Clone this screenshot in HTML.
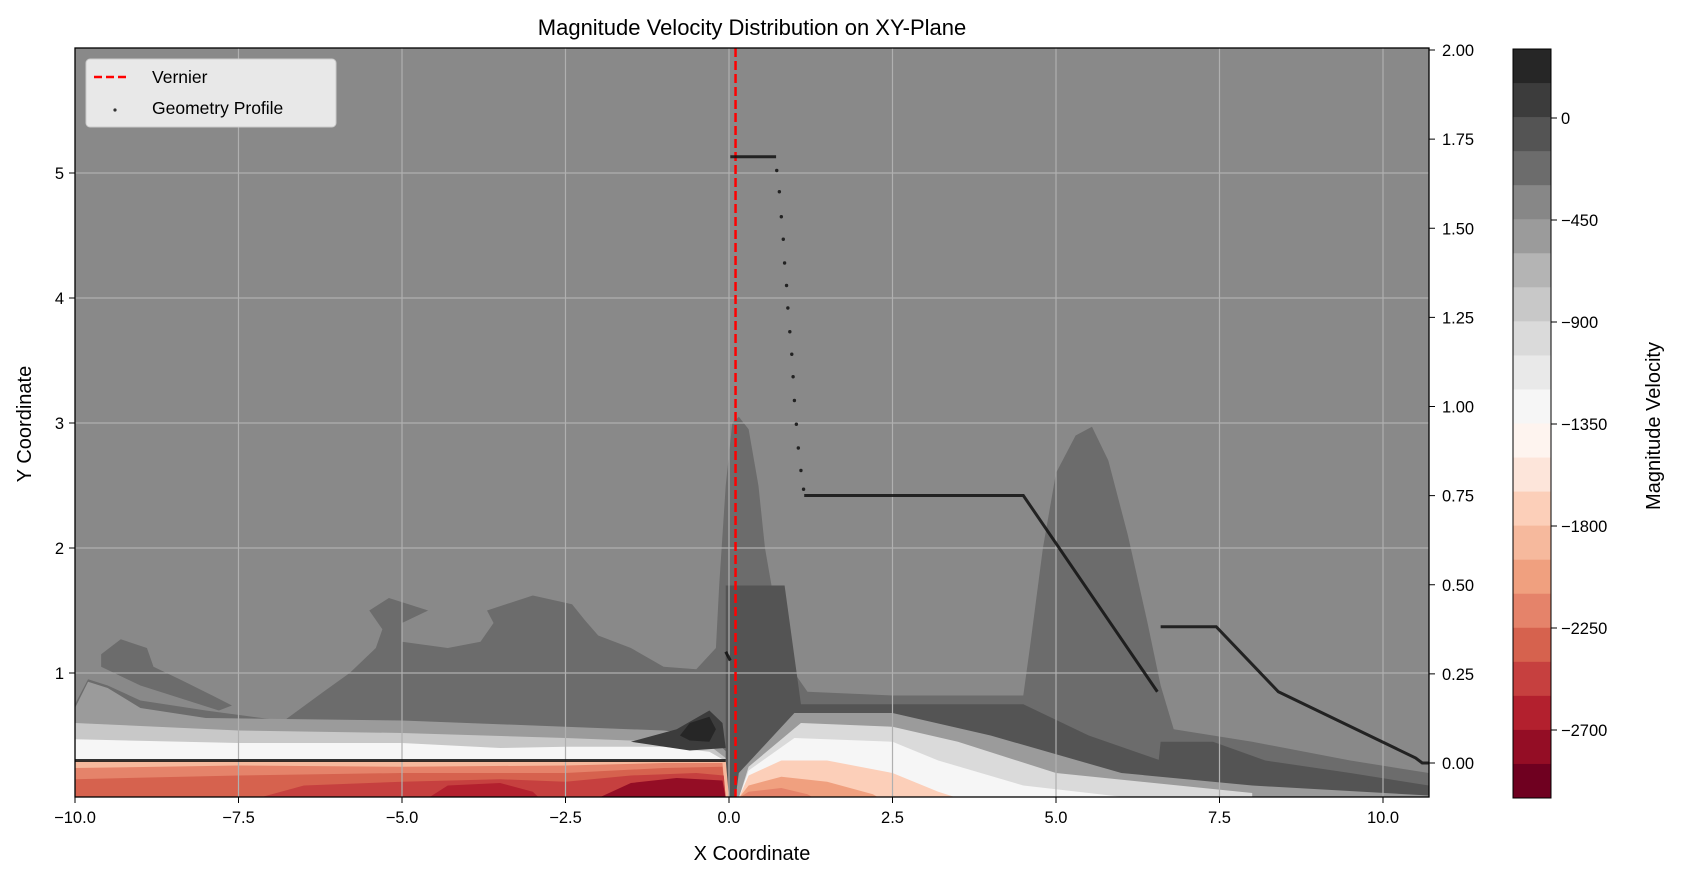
<!DOCTYPE html>
<html><head><meta charset="utf-8"><style>
html,body{margin:0;padding:0;background:#fff;}
svg{display:block;font-family:"Liberation Sans",sans-serif;}
</style></head><body>
<svg id="chart" width="1683" height="880" viewBox="0 0 1683 880" xmlns="http://www.w3.org/2000/svg">
<defs><clipPath id="pc"><rect x="75" y="48" width="1354" height="749"/></clipPath></defs>
<text x="752" y="35" font-size="22" text-anchor="middle" fill="#000">Magnitude Velocity Distribution on XY-Plane</text>
<g id="plot" clip-path="url(#pc)"></g>
<g id="overlay"></g>
<text x="752" y="860" font-size="20" text-anchor="middle">X Coordinate</text>
<text transform="translate(31,424) rotate(-90)" font-size="20" text-anchor="middle">Y Coordinate</text>
<text transform="translate(1660,426) rotate(-90)" font-size="20" text-anchor="middle">Magnitude Velocity</text>
</svg>
<script>
const xTicks=[-10,-7.5,-5,-2.5,0,2.5,5,7.5,10];
const xTickLabels=["−10.0","−7.5","−5.0","−2.5","0.0","2.5","5.0","7.5","10.0"];
const yTicks=[1,2,3,4,5];
const yTickLabels=["1","2","3","4","5"];
const yRightTicks=[0,0.25,0.5,0.75,1,1.25,1.5,1.75,2];
const yRightLabels=["0.00","0.25","0.50","0.75","1.00","1.25","1.50","1.75","2.00"];
const cbTicks=[0,-450,-900,-1350,-1800,-2250,-2700];
const cbTickLabels=["0","−450","−900","−1350","−1800","−2250","−2700"];
const cbColors=["#262626","#3c3c3c","#545454","#6c6c6c","#878787","#9b9b9b","#b4b4b4","#c8c8c8","#dadada","#e9e9e9","#f6f6f6","#fef4ef","#fde5da","#fccfb9","#f6b99d","#f0a07f","#e5836a","#d6624e","#c6403f","#b3202e","#940d25","#6f0020"];
const vernierX=0.1;
const regionMid=[[-10,0],[-10,0.75],[-9.8,0.95],[-9.5,0.9],[-9,0.78],[-8,0.7],[-7,0.63],[-6.8,0.62],[-6.2,0.85],[-5.8,1.0],[-5.4,1.2],[-5.3,1.35],[-5.5,1.5],[-5.2,1.6],[-4.6,1.5],[-5.0,1.4],[-5.0,1.25],[-4.3,1.2],[-3.8,1.25],[-3.6,1.4],[-3.7,1.5],[-3.0,1.62],[-2.4,1.55],[-2.2,1.42],[-2.0,1.3],[-1.5,1.2],[-1.0,1.05],[-0.5,1.03],[-0.2,1.2],[-0.15,1.7],[-0.05,2.5],[0.05,3.0],[0.15,3.05],[0.3,2.95],[0.45,2.5],[0.55,2.0],[0.75,1.4],[1.0,1.0],[1.2,0.85],[2.5,0.82],[4.5,0.82],[4.6,1.2],[4.8,2.0],[5.0,2.6],[5.3,2.9],[5.55,2.97],[5.8,2.7],[6.1,2.1],[6.4,1.4],[6.6,0.9],[6.8,0.55],[8,0.45],[9.5,0.3],[10.7,0.2],[10.7,0]];
const regionBlobL=[[-9.6,1.15],[-9.3,1.27],[-8.9,1.2],[-8.8,1.05],[-8.4,0.95],[-7.9,0.82],[-7.6,0.74],[-7.8,0.7],[-8.4,0.8],[-9.0,0.9],[-9.6,1.05]];
const regionLight=[[-10,0],[-10,0.72],[-9.8,0.93],[-9.5,0.88],[-9,0.72],[-8,0.64],[-5,0.62],[-2.5,0.57],[-1,0.54],[-0.3,0.5],[0,0.35],[0,0]];
const regionL2=[[-10,0],[-10,0.6],[-7.5,0.54],[-5,0.52],[-2.5,0.48],[-1,0.45],[-0.3,0.42],[0,0.3],[0,0]];
const regionL3=[[-10,0],[-10,0.47],[-7.5,0.44],[-5,0.44],[-3.5,0.4],[-2.5,0.41],[-1,0.41],[-0.3,0.37],[0,0.28],[0,0]];
const regionL4=[[-10,0],[-10,0.3],[-0.05,0.3],[0,0.1],[0,0]];
const regionL5=[[-10,0],[-10,0.24],[-7.5,0.26],[-5,0.25],[-2.5,0.26],[-1,0.28],[-0.1,0.28],[-0.05,0]];
const regionL6=[[-10,0],[-10,0.15],[-7.5,0.18],[-5,0.2],[-2.5,0.2],[-1,0.24],[-0.1,0.25],[-0.05,0]];
const regionL7=[[-7.2,0],[-6.5,0.1],[-5,0.13],[-3.5,0.15],[-2.5,0.13],[-1.5,0.18],[-0.5,0.2],[-0.08,0.18],[-0.05,0]];
const regionL8=[[-4.6,0],[-4.3,0.1],[-3.5,0.12],[-3.0,0.05],[-2.9,0]];
const regionL9=[[-2.0,0],[-1.5,0.12],[-0.8,0.16],[-0.1,0.14],[-0.05,0]];
const regionDarkCore=[[-1.5,0.45],[-0.8,0.55],[-0.3,0.7],[-0.1,0.6],[-0.05,0.4],[-0.6,0.38]];
const regionBlack=[[-0.75,0.5],[-0.6,0.6],[-0.3,0.65],[-0.2,0.55],[-0.3,0.45],[-0.6,0.46]];
const regionR1=[[-0.05,0.3],[-0.05,1.7],[0.85,1.7],[1.1,0.75],[4.5,0.75],[5.5,0.5],[6.6,0.3],[8.5,0.22],[10.7,0.08],[10.7,0],[0,0]];
const regionRbox=[[6.55,0.2],[6.6,0.45],[7.4,0.45],[8.2,0.3],[9.5,0.2],[10.7,0.1],[10.7,0.05],[8,0.15]];
const regionR2=[[0.1,0],[0.15,0.2],[1.0,0.68],[2.5,0.68],[4.0,0.5],[6,0.2],[8,0.1],[10.7,0.02],[10.7,0]];
const regionR3=[[0.15,0],[0.3,0.25],[1.1,0.6],[2.5,0.57],[3.5,0.45],[5,0.2],[8,0.04],[8,0]];
const regionR4=[[0.15,0],[0.3,0.22],[1.0,0.48],[2.5,0.45],[3.2,0.3],[4.5,0.1],[6,0.01],[6,0]];
const regionR5=[[0.15,0],[0.3,0.18],[0.8,0.3],[1.5,0.3],[2.5,0.2],[3.2,0.05],[3.5,0]];
const regionR6=[[0.15,0],[0.3,0.1],[0.8,0.17],[1.5,0.13],[2.2,0.03],[2.3,0]];
const regionR7=[[0.15,0],[0.3,0.05],[0.8,0.08],[1.2,0.03],[1.3,0]];
const geoLines=[
 {x:[-10,-0.05],y:[0.3,0.3]},
 {x:[-0.05,0.02],y:[1.17,1.1]},
 {x:[0.02,0.72],y:[5.13,5.13]},
 {x:[1.15,4.5,6.55],y:[2.42,2.42,0.85]},
 {x:[6.6,7.45,8.4,10.5,10.6,10.7],y:[1.37,1.37,0.85,0.32,0.28,0.28]}];
const geoDotX=[0.73,0.77,0.8,0.83,0.85,0.88,0.9,0.93,0.96,0.98,1.0,1.03,1.06,1.1,1.14];
const geoDotY=[5.02,4.85,4.65,4.47,4.28,4.1,3.92,3.73,3.55,3.37,3.18,2.99,2.8,2.62,2.47];

const NS="http://www.w3.org/2000/svg";
const sx=x=>75+(x+10)*65.4, sy=y=>798-y*125, syr=v=>763-v*356.5;
const cbTop=49,cbBot=798,cbL=1513,cbR=1551;
const cbY=v=>118+(0-v)/450*102;
const plot=document.getElementById('plot'), ov=document.getElementById('overlay');
function mk(t,a,p){const e=document.createElementNS(NS,t);for(const k in a)e.setAttribute(k,a[k]);(p||plot).appendChild(e);return e;}
function poly(pts,fill,name){const e=mk('polygon',{points:pts.map(p=>sx(p[0])+','+sy(p[1])).join(' '),fill:fill,'stroke-linejoin':'round'});

}
const bg=mk('rect',{x:75,y:48,width:1354,height:749,fill:'#898989'});


poly(regionMid,'#6c6c6c','contour-mid-gray');
poly(regionBlobL,'#6c6c6c','contour-left-blob');
poly(regionLight,'#9b9b9b','contour-left-light');
poly(regionL2,'#c8c8c8','contour-left-2');
poly(regionL3,'#f6f6f6','contour-left-3');
poly(regionL4,'#f6b99d','contour-left-4');
poly(regionL5,'#e5836a','contour-left-5');
poly(regionL6,'#d6624e','contour-left-6');
poly(regionL7,'#c6403f','contour-left-7');
poly(regionL8,'#b3202e','contour-left-8');
poly(regionL9,'#940d25','contour-left-9');
poly(regionDarkCore,'#3c3c3c','contour-dark-core');
poly(regionBlack,'#262626','contour-black-core');
poly(regionR1,'#545454','contour-right-dark');
poly(regionRbox,'#545454','contour-right-box');
poly(regionR2,'#9b9b9b','contour-right-2');
poly(regionR3,'#dadada','contour-right-3');
poly(regionR4,'#f6f6f6','contour-right-4');
poly(regionR5,'#fccfb9','contour-right-5');
poly(regionR6,'#f0a07f','contour-right-6');
poly(regionR7,'#e5836a','contour-right-7');
xTicks.forEach(t=>{const l=mk('line',{x1:sx(t),x2:sx(t),y1:48,y2:797,stroke:'#b0b0b0','stroke-width':1.2});

});
yTicks.forEach(t=>{const l=mk('line',{x1:75,x2:1429,y1:sy(t),y2:sy(t),stroke:'#b0b0b0','stroke-width':1.2});

});
const vl=mk('line',{x1:sx(vernierX),x2:sx(vernierX),y1:48,y2:797,stroke:'#ff0000','stroke-width':2.5,'stroke-dasharray':'9,4'});


geoLines.forEach(s=>{const e=mk('polyline',{points:s.x.map((x,i)=>sx(x)+','+sy(s.y[i])).join(' '),fill:'none',stroke:'#111','stroke-width':3,opacity:0.85});

});
geoDotX.forEach((x,i)=>{const c=mk('circle',{cx:sx(x),cy:sy(geoDotY[i]),r:1.7,fill:'#222'});

});
const fr=mk('rect',{x:75,y:48,width:1354,height:749,fill:'none',stroke:'#000','stroke-width':1.3},ov);


xTicks.forEach((t,i)=>{mk('line',{x1:sx(t),x2:sx(t),y1:797,y2:803,stroke:'#000'},ov);
const tx=mk('text',{x:sx(t),y:823,'font-size':16.5,'text-anchor':'middle'},ov);tx.textContent=xTickLabels[i];

});
yTicks.forEach((t,i)=>{mk('line',{x1:69,x2:75,y1:sy(t),y2:sy(t),stroke:'#000'},ov);
const tx=mk('text',{x:64,y:sy(t)+6,'font-size':16.5,'text-anchor':'end'},ov);tx.textContent=yTickLabels[i];

});
yRightTicks.forEach((t,i)=>{mk('line',{x1:1429,x2:1435,y1:syr(t),y2:syr(t),stroke:'#000'},ov);
const tx=mk('text',{x:1442,y:syr(t)+6,'font-size':16.5},ov);tx.textContent=yRightLabels[i];

});
const bh=(cbBot-cbTop)/cbColors.length;
cbColors.forEach((c,i)=>{const r=mk('rect',{x:cbL,y:cbTop+i*bh,width:cbR-cbL,height:bh+0.5,fill:c},ov);

});
mk('rect',{x:cbL,y:cbTop,width:cbR-cbL,height:cbBot-cbTop,fill:'none',stroke:'#000','stroke-width':1},ov);
cbTicks.forEach((t,i)=>{mk('line',{x1:cbR,x2:cbR+6,y1:cbY(t),y2:cbY(t),stroke:'#000'},ov);
const tx=mk('text',{x:cbR+10,y:cbY(t)+6,'font-size':16.5},ov);tx.textContent=cbTickLabels[i];

});
const lg=mk('g',{},ov);


mk('rect',{x:86,y:59,width:250,height:68,rx:4,fill:'#e8e8e8',stroke:'#cccccc'},lg);
const le1=mk('line',{x1:94,x2:126,y1:77,y2:77,stroke:'#ff0000','stroke-width':2.5,'stroke-dasharray':'8,4'},lg);


const t1=mk('text',{x:152,y:83,'font-size':17.5},lg);t1.textContent='Vernier';


const le2=mk('circle',{cx:115,cy:110,r:1.6,fill:'#333'},lg);


const t2=mk('text',{x:152,y:114,'font-size':17.5},lg);t2.textContent='Geometry Profile';


</script>
</body></html>
